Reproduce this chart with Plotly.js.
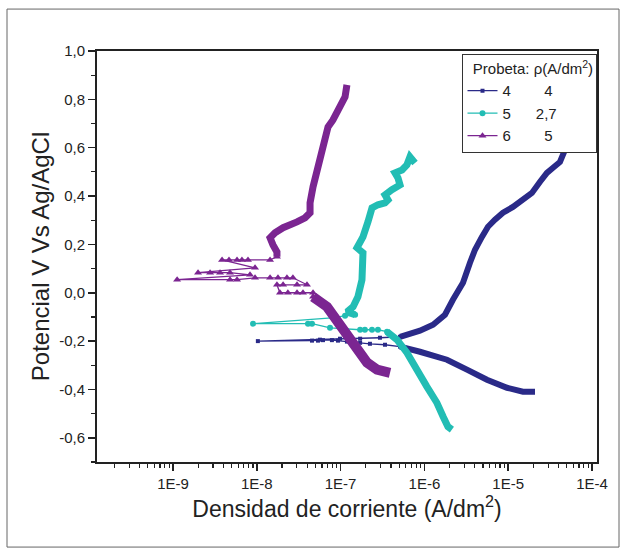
<!DOCTYPE html>
<html>
<head>
<meta charset="utf-8">
<script src="https://cdn.plot.ly/plotly-3.0.1.min.js"></script>
<style>html,body{margin:0;padding:0;background:#fff}#chart{width:625px;height:554px}</style>
</head>
<body>
<div id="chart"></div>
<script>
// Probeta 4 (rho = 4 A/dm2)
const s4CathX = [2.09e-5, 1.50e-5, 9.69e-6, 5.58e-6, 3.22e-6, 1.86e-6, 8.85e-7, 5.12e-7];
const s4CathY = [-0.409, -0.409, -0.393, -0.360, -0.318, -0.277, -0.244, -0.223];
const s4EcorrX = [5.12e-7, 3.39e-7, 2.24e-7, 1.71e-7, 1.19e-7, 9.31e-8, 7.88e-8, 6.17e-8, 5.37e-8, 4.56e-8, 1.03e-8, 5.67e-8, 9.84e-8, 1.71e-7, 2.95e-7, 5.12e-7];
const s4EcorrY = [-0.223, -0.215, -0.211, -0.207, -0.202, -0.198, -0.196, -0.196, -0.198, -0.198, -0.200, -0.194, -0.190, -0.190, -0.186, -0.182];
const s4AnodX = [5.12e-7, 8.85e-7, 1.27e-6, 1.76e-6, 2.19e-6, 2.89e-6, 3.50e-6, 4.02e-6, 4.86e-6, 5.74e-6, 6.95e-6, 8.67e-6, 1.14e-5, 1.50e-5, 1.92e-5, 2.40e-5, 2.90e-5, 3.43e-5, 4.15e-5, 4.76e-5];
const s4AnodY = [-0.182, -0.157, -0.132, -0.091, -0.029, 0.041, 0.124, 0.178, 0.231, 0.273, 0.302, 0.331, 0.355, 0.384, 0.413, 0.459, 0.496, 0.517, 0.541, 0.591];

// Probeta 5 (rho = 2,7 A/dm2)
const s5CathX = [2.13e-6, 1.91e-6, 1.67e-6, 1.41e-6, 1.07e-6, 8.17e-7, 6.19e-7, 4.71e-7, 3.58e-7];
const s5CathY = [-0.566, -0.554, -0.512, -0.455, -0.388, -0.318, -0.248, -0.194, -0.161];
const s5EcorrX = [3.58e-7, 2.79e-7, 2.37e-7, 1.95e-7, 1.71e-7, 7.48e-8, 4.56e-8, 4.08e-8, 9.02e-9, 8.57e-8, 1.13e-7, 1.49e-7];
const s5EcorrY = [-0.161, -0.153, -0.153, -0.153, -0.153, -0.145, -0.128, -0.128, -0.128, -0.103, -0.095, -0.091];
const s5AnodX = [1.49e-7, 1.19e-7, 1.41e-7, 1.61e-7, 1.80e-7, 1.85e-7, 1.85e-7, 1.57e-7, 1.85e-7, 2.12e-7, 2.24e-7, 2.37e-7, 2.79e-7, 3.39e-7, 3.68e-7, 3.39e-7, 4.10e-7, 5.12e-7, 4.84e-7, 4.46e-7, 5.41e-7, 6.19e-7, 6.73e-7, 7.73e-7];
const s5AnodY = [-0.091, -0.079, -0.058, -0.017, 0.054, 0.107, 0.165, 0.186, 0.231, 0.293, 0.322, 0.351, 0.364, 0.372, 0.384, 0.405, 0.426, 0.446, 0.475, 0.496, 0.508, 0.529, 0.562, 0.537];

// Probeta 6 (rho = 5 A/dm2)
const s6CathX = [3.89e-7, 2.72e-7, 2.07e-7, 1.71e-7, 1.41e-7, 1.19e-7, 9.06e-8, 6.89e-8, 5.67e-8, 4.69e-8];
const s6CathY = [-0.331, -0.318, -0.289, -0.248, -0.207, -0.165, -0.112, -0.058, -0.037, -0.017];
const s6EcorrX = [4.69e-8, 4.69e-8, 3.56e-8, 3.02e-8, 2.35e-8, 1.89e-8, 1.74e-8, 2.06e-8, 3.02e-8, 3.97e-8, 2.70e-8, 2.29e-8, 1.79e-8, 1.44e-8, 9.53e-9, 5.81e-9, 4.79e-9, 1.12e-9, 8.30e-9, 4.79e-9, 3.64e-9, 2.77e-9, 1.99e-9, 9.53e-9, 3.85e-9, 4.66e-9, 5.81e-9, 6.65e-9, 7.85e-9, 1.44e-8, 1.74e-8];
const s6EcorrY = [-0.017, 0.0, 0.0, 0.0, 0.0, 0.0, 0.033, 0.033, 0.033, 0.033, 0.062, 0.062, 0.062, 0.062, 0.062, 0.054, 0.054, 0.054, 0.074, 0.083, 0.083, 0.083, 0.083, 0.103, 0.136, 0.136, 0.136, 0.136, 0.136, 0.136, 0.149];
const s6AnodX = [1.74e-8, 1.74e-8, 1.56e-8, 1.44e-8, 1.65e-8, 2.06e-8, 3.02e-8, 3.76e-8, 4.32e-8, 4.32e-8, 4.69e-8, 5.22e-8, 6.00e-8, 6.52e-8, 7.08e-8, 8.11e-8, 9.84e-8, 1.13e-7, 1.19e-7];
const s6AnodY = [0.149, 0.169, 0.198, 0.227, 0.248, 0.269, 0.293, 0.310, 0.331, 0.372, 0.438, 0.508, 0.579, 0.632, 0.686, 0.715, 0.769, 0.810, 0.860];

// Tick labels
const xTickVals = [1e-9, 1e-8, 1e-7, 1e-6, 1e-5, 1e-4];
const xTickText = ['1E-9', '1E-8', '1E-7', '1E-6', '1E-5', '1E-4'];
const yTickVals = [-0.6, -0.4, -0.2, 0.0, 0.2, 0.4, 0.6, 0.8, 1.0];
const yTickText = ['-0,6', '-0,4', '-0,2', '0,0', '0,2', '0,4', '0,6', '0,8', '1,0'];

// Legend labels
const probetas = ['4', '5', '6'];
const densidades = ['4', '2,7', '5'];

const C4 = '#2a2a88', C5 = '#22bdb4', C6 = '#7b2591';
const nb = n => '&nbsp;'.repeat(n);

const xMinor = [];
for (let e = -10; e <= -5; e++) for (let m = 2; m <= 9; m++) xMinor.push(m * Math.pow(10, e));

function band(x, y, color, w, g) {
  return {x: x, y: y, type: 'scatter', mode: 'lines', line: {color: color, width: w},
          showlegend: false, legendgroup: g, hoverinfo: 'skip'};
}
function thin(x, y, color, sym, size, name, g) {
  return {x: x, y: y, type: 'scatter', mode: 'lines+markers', name: name, legendgroup: g,
          line: {color: color, width: 1.3}, marker: {color: color, symbol: sym, size: size}};
}

const data = [
  band(s4CathX, s4CathY, C4, 6, 'a'),
  thin(s4EcorrX, s4EcorrY, C4, 'square', 4, probetas[0] + nb(8) + densidades[0], 'a'),
  band(s4AnodX, s4AnodY, C4, 6, 'a'),
  band(s5CathX, s5CathY, C5, 7, 'b'),
  thin(s5EcorrX, s5EcorrY, C5, 'circle', 6, probetas[1] + nb(6) + densidades[1], 'b'),
  band(s5AnodX, s5AnodY, C5, 7, 'b'),
  band(s6CathX, s6CathY, C6, 10, 'c'),
  thin(s6EcorrX, s6EcorrY, C6, 'triangle-up', 7, probetas[2] + nb(8) + densidades[2], 'c'),
  band(s6AnodX, s6AnodY, C6, 7, 'c')
];

const layout = {
  width: 625, height: 554,
  margin: {l: 97, r: 28, t: 51, b: 92},
  paper_bgcolor: '#fff', plot_bgcolor: '#fff',
  font: {family: 'Liberation Sans, Arial, sans-serif', color: '#222', size: 15},
  showlegend: true,
  xaxis: {
    type: 'log', range: [-9.907, -3.94],
    tickmode: 'array', tickvals: xTickVals, ticktext: xTickText,
    ticks: 'outside', ticklen: 7, tickwidth: 1.5, tickcolor: '#222',
    minor: {tickmode: 'array', tickvals: xMinor, ticks: 'outside', ticklen: 4, tickwidth: 1.2, tickcolor: '#222'},
    showline: true, linecolor: '#222', linewidth: 2, mirror: true,
    showgrid: false, zeroline: false,
    tickfont: {size: 15},
    title: {text: 'Densidad de corriente (A/dm<sup>2</sup>)', font: {size: 23}, standoff: 10}
  },
  yaxis: {
    range: [-0.7, 1.0],
    tickmode: 'array', tickvals: yTickVals, ticktext: yTickText,
    ticks: 'outside', ticklen: 7, tickwidth: 1.5, tickcolor: '#222',
    minor: {dtick: 0.1, tick0: 0, ticks: 'outside', ticklen: 4, tickwidth: 1.2, tickcolor: '#222'},
    showline: true, linecolor: '#222', linewidth: 2, mirror: true,
    showgrid: false, zeroline: false,
    tickfont: {size: 15},
    title: {text: 'Potencial V Vs Ag/AgCl', font: {size: 24}, standoff: 3}
  },
  legend: {
    x: 0.999, y: 0.993, xanchor: 'right', yanchor: 'top',
    bgcolor: '#fff', bordercolor: '#333', borderwidth: 1,
    font: {size: 15}, tracegroupgap: 0, itemwidth: 30,
    title: {text: '&nbsp;&nbsp;Probeta: ρ(A/dm<sup>2</sup>)', font: {size: 15}}
  },
  shapes: [{type: 'rect', xref: 'paper', yref: 'paper',
            x0: -0.18, x1: 1.044, y0: -0.207, y1: 1.102,
            line: {color: '#666', width: 1}, fillcolor: 'rgba(0,0,0,0)'}]
};

Plotly.newPlot('chart', data, layout, {displayModeBar: false, staticPlot: true});
</script>
</body>
</html>
